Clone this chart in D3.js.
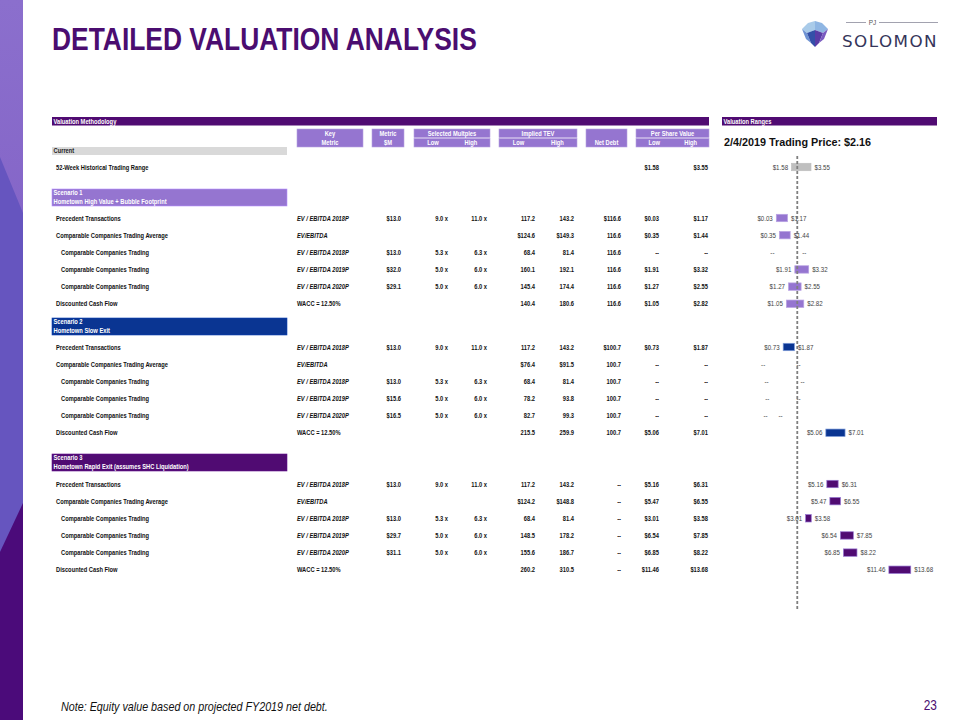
<!DOCTYPE html>
<html><head><meta charset="utf-8">
<script src="https://cdn.jsdelivr.net/npm/d3@7"></script>
<style>body{margin:0;background:#fff}svg{display:block}</style>
</head><body>
<svg id="c" width="960" height="720"></svg>
<script>
// ---------------- DATA ----------------
const title = "DETAILED VALUATION ANALYSIS";
const priceTitle = "2/4/2019 Trading Price: $2.16";
const tradingPrice = 2.16;
const footnote = "Note: Equity value based on projected FY2019 net debt.";
const pageNumber = "23";
const sectionTitles = [
  ["Current"],
  ["Scenario 1", "Hometown High Value + Bubble Footprint"],
  ["Scenario 2", "Hometown Slow Exit"],
  ["Scenario 3", "Hometown Rapid Exit (assumes SHC Liquidation)"]
];
const rowSection = [0, 1,1,1,1,1,1, 2,2,2,2,2,2, 3,3,3,3,3,3];
const rowLabels = [
  "52-Week Historical Trading Range",
  "Precedent Transactions","Comparable Companies Trading Average","Comparable Companies Trading","Comparable Companies Trading","Comparable Companies Trading","Discounted Cash Flow",
  "Precedent Transactions","Comparable Companies Trading Average","Comparable Companies Trading","Comparable Companies Trading","Comparable Companies Trading","Discounted Cash Flow",
  "Precedent Transactions","Comparable Companies Trading Average","Comparable Companies Trading","Comparable Companies Trading","Comparable Companies Trading","Discounted Cash Flow"
];
const rowIndent = [0, 0,0,1,1,1,0, 0,0,1,1,1,0, 0,0,1,1,1,0];
const keyMetric = ["",
  "EV / EBITDA 2018P","EV/EBITDA","EV / EBITDA 2018P","EV / EBITDA 2019P","EV / EBITDA 2020P","WACC = 12.50%",
  "EV / EBITDA 2018P","EV/EBITDA","EV / EBITDA 2018P","EV / EBITDA 2019P","EV / EBITDA 2020P","WACC = 12.50%",
  "EV / EBITDA 2018P","EV/EBITDA","EV / EBITDA 2018P","EV / EBITDA 2019P","EV / EBITDA 2020P","WACC = 12.50%"];
const metricM = ["", "$13.0","","$13.0","$32.0","$29.1","", "$13.0","","$13.0","$15.6","$16.5","", "$13.0","","$13.0","$29.7","$31.1",""];
const multLow = ["", "9.0 x","","5.3 x","5.0 x","5.0 x","", "9.0 x","","5.3 x","5.0 x","5.0 x","", "9.0 x","","5.3 x","5.0 x","5.0 x",""];
const multHigh = ["", "11.0 x","","6.3 x","6.0 x","6.0 x","", "11.0 x","","6.3 x","6.0 x","6.0 x","", "11.0 x","","6.3 x","6.0 x","6.0 x",""];
const tevLow = ["", "117.2","$124.6","68.4","160.1","145.4","140.4", "117.2","$76.4","68.4","78.2","82.7","215.5", "117.2","$124.2","68.4","148.5","155.6","260.2"];
const tevHigh = ["", "143.2","$149.3","81.4","192.1","174.4","180.6", "143.2","$91.5","81.4","93.8","99.3","259.9", "143.2","$148.8","81.4","178.2","186.7","310.5"];
const netDebt = ["", "$116.6","116.6","116.6","116.6","116.6","116.6", "$100.7","100.7","100.7","100.7","100.7","100.7", "--","--","--","--","--","--"];
const psLow  = [1.58, 0.03,0.35,null,1.91,1.27,1.05, 0.73,null,null,null,null,5.06, 5.16,5.47,3.01,6.54,6.85,11.46];
const psHigh = [3.55, 1.17,1.44,null,3.32,2.55,2.82, 1.87,null,null,null,null,7.01, 6.31,6.55,3.58,7.85,8.22,13.68];
// where the "--" labels of empty ranges sit, on the price axis
const dashLow  = [null, null,null,0.2,null,null,null, null,-0.74,-0.4,-0.33,-0.5,null, null,null,null,null,null,null];
const dashHigh = [null, null,null,2.3,null,null,null, null,1.73,2.13,1.73,-0.1,null, null,null,null,null,null,null];
const headerTop = ["Key","Metric","Selected Multples","Implied TEV","","Per Share Value"];
const headerBottom = ["Metric","$M",["Low","High"],["Low","High"],"Net Debt",["Low","High"]];

// ---------------- STYLE / LAYOUT ----------------
const C = {
  dark: "#500b72", light: "#9575d0", blue: "#0a3592", gray: "#d9d9d9", barGray: "#bfbfbf"
};
const sectionFill = [C.gray, C.light, C.blue, C.dark];
const barFill = [C.barGray, C.light, C.blue, C.dark];
const barStroke = [C.barGray, "#b9a3e3", "#7d9bd9", "#9575d0"];

function hasFont(name){
  const c = document.createElement("canvas").getContext("2d");
  const s = "abcdefghijklmnopqrstuvwxyz0123456789WMWABCDE";
  c.font = "40px monospace"; const w0 = c.measureText(s).width;
  c.font = `40px "${name}", monospace`; return c.measureText(s).width !== w0;
}
const hasNarrow = hasFont("Liberation Sans Narrow");
const NF = hasNarrow ? "'Liberation Sans Narrow', 'Arial Narrow', sans-serif" : "'Liberation Sans', Arial, sans-serif";
const RF = "'Liberation Sans', Arial, sans-serif";
const FS = 7.0;   // table font size

const svg = d3.select("#c");

// left decorative strip
const grad = svg.append("defs").append("linearGradient").attr("id","topg").attr("x1",0).attr("y1",0).attr("x2",0).attr("y2",1);
grad.append("stop").attr("offset","0%").attr("stop-color","#8b6fcd");
grad.append("stop").attr("offset","100%").attr("stop-color","#8566c8");
svg.append("rect").attr("x",0).attr("y",0).attr("width",23).attr("height",720).attr("fill","#6655bf");
svg.append("polygon").attr("points","0,0 23,0 23,213 0,157").attr("fill","url(#topg)");
svg.append("polygon").attr("points","0,552 23,503 23,720 0,720").attr("fill","#4b0b7a");

// title
svg.append("text").attr("class","narrow").attr("x",52).attr("y",50)
  .attr("font-family",NF).attr("font-weight","bold").attr("font-size",32.2)
  .attr("fill","#4b0d70").text(title);

// logo
const logo = svg.append("g").attr("transform","translate(802,21)");
const gem = [
  ["0,8 6,2 13,0 13,9 5,12", "#a9cbe9"],
  ["13,0 20,2 26,8 21,12 13,9", "#8fb6e3"],
  ["0,8 5,12 9,22 4,18", "#6f93d3"],
  ["5,12 13,9 13,26 9,22", "#3450a8"],
  ["13,9 21,12 17,22 13,26", "#5a3ca6"],
  ["21,12 26,8 22,18 17,22", "#7a5bc0"]
];
logo.selectAll("polygon").data(gem).join("polygon").attr("points",d=>d[0]).attr("fill",d=>d[1]);
svg.append("line").attr("x1",846).attr("x2",866).attr("y1",22.5).attr("y2",22.5).attr("stroke","#8a8a9a").attr("stroke-width",0.8);
svg.append("line").attr("x1",879).attr("x2",938).attr("y1",22.5).attr("y2",22.5).attr("stroke","#8a8a9a").attr("stroke-width",0.8);
svg.append("text").attr("x",872.5).attr("y",25).attr("text-anchor","middle").attr("font-family",RF)
  .attr("font-size",6.5).attr("fill","#555").text("PJ");
svg.append("text").attr("x",842).attr("y",47).attr("font-family","'DejaVu Sans', sans-serif")
  .attr("font-size",15).attr("letter-spacing",1.3).attr("fill","#35355a")
  .attr("textLength",96).attr("lengthAdjust","spacingAndGlyphs").text("SOLOMON");

// header bars
svg.append("rect").attr("x",52).attr("y",117).attr("width",657).attr("height",8.5).attr("fill",C.dark);
svg.append("rect").attr("x",722).attr("y",117).attr("width",215).attr("height",8.5).attr("fill",C.dark);
svg.append("text").attr("class","narrow").attr("x",53.5).attr("y",123.8).attr("font-family",NF).attr("font-weight","bold")
  .attr("font-size",FS).attr("fill","#fff").text("Valuation Methodology");
svg.append("text").attr("class","narrow").attr("x",723.5).attr("y",123.8).attr("font-family",NF).attr("font-weight","bold")
  .attr("font-size",FS).attr("fill","#fff").text("Valuation Ranges");

// column header boxes
const boxes = [[297,363],[372,404],[414,490],[499,577],[586,627],[636,709]];
const hdr = svg.append("g");
boxes.forEach((b,i)=>{
  const split = Array.isArray(headerBottom[i]);
  if (split) {
    hdr.append("rect").attr("x",b[0]).attr("y",129).attr("width",b[1]-b[0]).attr("height",8.5).attr("fill",C.light).attr("stroke","#b7a2e2").attr("stroke-width",0.6);
    hdr.append("rect").attr("x",b[0]).attr("y",138.5).attr("width",b[1]-b[0]).attr("height",8.5).attr("fill",C.light).attr("stroke","#b7a2e2").attr("stroke-width",0.6);
    const m = (b[0]+b[1])/2;
    hdr.append("text").attr("class","narrow").attr("x",m).attr("y",135.8).text(headerTop[i]);
    hdr.append("text").attr("class","narrow").attr("x",(b[0]+m)/2).attr("y",145.3).text(headerBottom[i][0]);
    hdr.append("text").attr("class","narrow").attr("x",(m+b[1])/2).attr("y",145.3).text(headerBottom[i][1]);
  } else {
    hdr.append("rect").attr("x",b[0]).attr("y",129).attr("width",b[1]-b[0]).attr("height",18).attr("fill",C.light).attr("stroke","#b7a2e2").attr("stroke-width",0.6);
    const m = (b[0]+b[1])/2;
    if (headerTop[i]) hdr.append("text").attr("class","narrow").attr("x",m).attr("y",135.8).text(headerTop[i]);
    hdr.append("text").attr("class","narrow").attr("x",m).attr("y",145.3).text(headerBottom[i]);
  }
});
hdr.selectAll("text").attr("text-anchor","middle").attr("font-family",NF).attr("font-weight","bold")
  .attr("font-size",FS).attr("fill","#fff");

// section header bands
const secTop = [147, 189, 318, 454];
const secH = [8, 17, 17, 17];
const firstRow = [167, 218, 347, 484];
const rowStep = 17.15;
const sec = svg.append("g");
sectionTitles.forEach((t,s)=>{
  sec.append("rect").attr("x",52).attr("y",secTop[s]).attr("width",235).attr("height",secH[s]).attr("fill",sectionFill[s])
    .attr("stroke", s===0 ? "none" : d3.color(sectionFill[s]).brighter(0.6)).attr("stroke-width",0.6);
  t.forEach((line,k)=>{
    sec.append("text").attr("class","narrow").attr("x",53.5).attr("y",secTop[s]+6.4+k*8.4)
      .attr("font-family",NF).attr("font-weight","bold").attr("font-size",FS)
      .attr("fill", s===0 ? "#222" : "#fff").text(line);
  });
});

// rows
const secCount = [0,0,0,0];
const rowY = rowSection.map(s => firstRow[s] + (secCount[s]++) * rowStep);

const tbl = svg.append("g").attr("font-family",NF).attr("font-weight","bold").attr("font-size",FS).attr("fill","#111");
const cols = [
  {arr: metricM, x: 401}, {arr: multLow, x: 448}, {arr: multHigh, x: 487},
  {arr: tevLow, x: 535}, {arr: tevHigh, x: 574}, {arr: netDebt, x: 621}
];
rowLabels.forEach((lab,i)=>{
  const y = rowY[i] + 2.5;
  tbl.append("text").attr("class","narrow").attr("x", rowIndent[i] ? 61 : 56).attr("y",y).text(lab);
  if (keyMetric[i]) tbl.append("text").attr("class","narrow").attr("x",297).attr("y",y)
    .attr("font-style", keyMetric[i].startsWith("EV") ? "italic" : "normal").text(keyMetric[i]);
  cols.forEach(c=>{ if (c.arr[i]) tbl.append("text").attr("class","narrow").attr("x",c.x).attr("y",y).attr("text-anchor","end").text(c.arr[i]); });
  const lo = psLow[i] == null ? "--" : "$" + psLow[i].toFixed(2);
  const hi = psHigh[i] == null ? "--" : "$" + psHigh[i].toFixed(2);
  tbl.append("text").attr("class","narrow").attr("x",659).attr("y",y).attr("text-anchor","end").text(lo);
  tbl.append("text").attr("class","narrow").attr("x",708).attr("y",y).attr("text-anchor","end").text(hi);
});

// ---------------- football field chart ----------------
const x = d3.scaleLinear().domain([0, 14]).range([776, 776 + 9.85*14]);
svg.append("text").attr("x",724).attr("y",146).attr("font-family",RF).attr("font-weight","bold")
  .attr("font-size",10.8).attr("fill","#111").text(priceTitle);

const ch = svg.append("g");
const barH = 7.4;
const idx = d3.range(rowLabels.length);
ch.selectAll("rect.bar").data(idx.filter(i=>psLow[i]!=null)).join("rect").attr("class","bar")
  .attr("x", i=>x(psLow[i])).attr("width", i=>x(psHigh[i]) - x(psLow[i]))
  .attr("y", i=>rowY[i] - barH/2).attr("height", barH)
  .attr("fill", i=>barFill[rowSection[i]]).attr("stroke", i=>barStroke[rowSection[i]]).attr("stroke-width",0.7);

// trading price line
ch.append("line").attr("x1",x(tradingPrice)).attr("x2",x(tradingPrice)).attr("y1",156).attr("y2",609)
  .attr("stroke","#7f7f7f").attr("stroke-width",1.8).attr("stroke-dasharray","3,2");

const lab = ch.append("g").attr("font-family",NF).attr("font-size",7.5).attr("fill","#3f3f3f");
idx.forEach(i=>{
  if (psLow[i] != null) {
    lab.append("text").attr("class","narrow").attr("x", x(psLow[i]) - 3.5).attr("y", rowY[i]+2.6).attr("text-anchor","end").text("$" + psLow[i].toFixed(2));
    lab.append("text").attr("class","narrow").attr("x", x(psHigh[i]) + 3.5).attr("y", rowY[i]+2.6).text("$" + psHigh[i].toFixed(2));
  } else if (dashLow[i] != null) {
    lab.append("text").attr("class","narrow").attr("x", x(dashLow[i]) - 3.5).attr("y", rowY[i]+2.6).attr("text-anchor","end").text("--");
    lab.append("text").attr("class","narrow").attr("x", x(dashHigh[i]) + 3.5).attr("y", rowY[i]+2.6).text("--");
  }
});

// footer
svg.append("text").attr("class","narrow").attr("x",61).attr("y",711).attr("font-family",NF).attr("font-style","italic")
  .attr("font-size",13.1).attr("fill","#111").text(footnote);
svg.append("text").attr("class","narrow").attr("x",937).attr("y",710).attr("text-anchor","end").attr("font-family",NF)
  .attr("font-size",14.5).attr("fill","#4b0d70").text(pageNumber);

// compress to a narrow face when no narrow font is installed
if (!hasNarrow) {
  svg.selectAll("text.narrow").each(function(){
    const w = this.getComputedTextLength();
    if (w > 0) d3.select(this).attr("textLength", w*0.82).attr("lengthAdjust","spacingAndGlyphs");
  });
}
</script>
</body></html>
